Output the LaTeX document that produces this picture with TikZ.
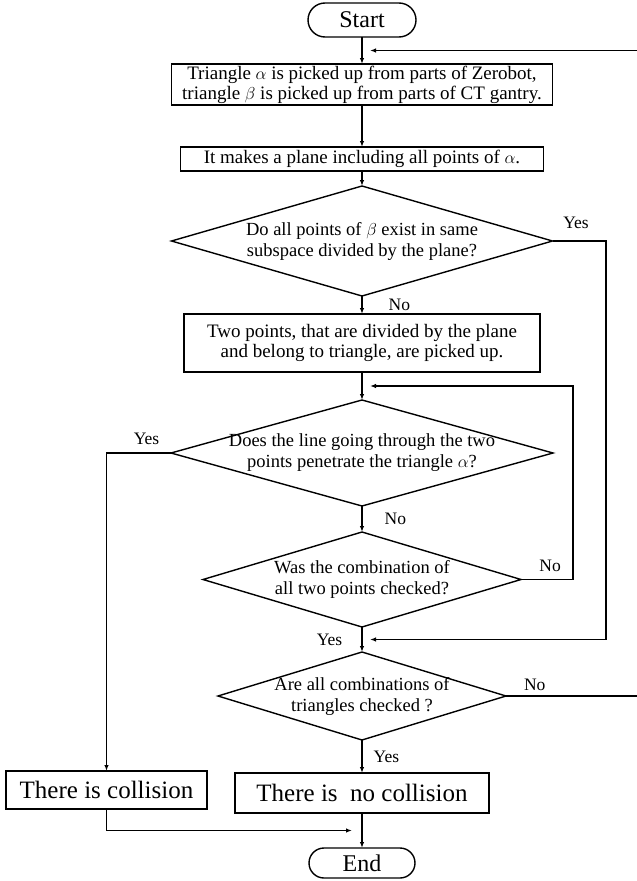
\documentclass[tikz,border=0pt]{standalone}
\usepackage{fontspec}
\setmainfont{Liberation Serif}
\usetikzlibrary{arrows.meta}
\usetikzlibrary{positioning}
\usetikzlibrary{shapes.geometric}
\usetikzlibrary{shapes.misc}
\usetikzlibrary{calc}

\begin{document}
\begin{tikzpicture}[x=1pt, y=1pt, line width=1.4pt, >={Latex[length=6pt,width=4.5pt]},
        box/.style={draw, rectangle, align=center, inner sep=0pt, outer sep=0pt, font=\fontsize{19}{20}\selectfont},
        term/.style={draw, rounded rectangle, minimum width=108pt, minimum height=34pt, inner sep=0pt, outer sep=0pt, font=\fontsize{24}{26}\selectfont},
        dec/.style={draw, diamond, inner sep=0pt, outer sep=0pt},
        dtext/.style={align=center, inner sep=0pt, font=\fontsize{18.5}{21}\selectfont},
        yn/.style={inner sep=0pt, font=\fontsize{17.5}{20}\selectfont}]
                \useasboundingbox (0,-881) rectangle (637,0);
                \node[term] (start) at (362,-20) {Start};
                \node[box, minimum width=381pt, minimum height=41pt] (b_1) [below = 27pt of start] {Triangle $\alpha$ is picked up from parts of Zerobot,\\triangle $\beta$\ is picked up from parts of CT gantry.};
                \node[box, minimum width=363pt, minimum height=24pt] (b_2) [below = 42pt of b_1] {It makes a plane including all points of $\alpha$.};
                \node[dec, minimum width=381pt, minimum height=110pt, label={[dtext]center:{Do all points of $\beta$ exist in same\\subspace divided by the plane?}}] (d_1) [below = 15pt of b_2] {};
                \node[box, minimum width=356pt, minimum height=58pt] (b_3) [below = 18pt of d_1] {Two points, that are divided by the plane\\and belong to triangle, are picked up.};
                \node[dec, minimum width=382pt, minimum height=106pt, label={[dtext]center:{Does the line going through the two\\points penetrate the triangle $\alpha$?}}] (d_2) [below = 28pt of b_3] {};
                \node[dec, minimum width=318pt, minimum height=95pt, label={[dtext]center:{Was the combination of\\all two points checked?}}] (d_3) [below = 26pt of d_2] {};
                \node[dec, minimum width=288pt, minimum height=88pt, label={[dtext]center:{Are all combinations of\\triangles checked ?}}] (d_4) [below = 25pt of d_3] {};
                \node[box, minimum width=254pt, minimum height=40pt, font=\fontsize{25}{27}\selectfont] (r_2) [below = 33pt of d_4] {There is\ \ no collision};
                \node[box, minimum width=201pt, minimum height=38pt, font=\fontsize{25}{27}\selectfont] (r_1) [left = 28pt of r_2, yshift=3pt] {There is collision};
                \node[term, minimum width=106pt, minimum height=30pt] (stop) [below = 35pt of r_2] {End};
                % joints on the main line
                \coordinate (in_1) at ($(start.south)!.5!(b_1.north)$);
                \coordinate (in_2) at ($(b_3.south)!.5!(d_2.north)$);
                \coordinate (in_3) at ($(d_3.south)!.5!(d_4.north)$);
                \coordinate (in_4) at ($(r_2.south)!.5!(stop.north)$);
                \coordinate (r_a) at (606,0);
                \coordinate (r_b) at (573,0);
                \coordinate (far) at (650,0);
                \draw[->] (start) -- (b_1);
                \draw[->] (b_1) -- (b_2);
                \draw[->] (b_2) -- (d_1);
                \draw[->] (d_1) -- node[yn, right = 26pt] {No} (b_3);
                \draw[->] (b_3) -- (d_2);
                \draw[->] (d_2) -- node[yn, right = 22pt] {No} (d_3);
                \draw[->] (d_3) -- node[yn, left = 19pt] {Yes} (d_4);
                \draw[->] (d_4) -- node[yn, right = 11pt] {Yes} (r_2);
                \draw[->] (r_2) -- (stop);
                % loops
                \draw[->] (d_1.east) -| node[yn, above = 12pt, pos=0.22] {Yes} (r_a |- in_3) -- ([xshift=8pt]in_3);
                \draw[->] (d_3.east) -| node[yn, above = 7pt, pos=0.28] {No} (r_b |- in_2) -- ([xshift=8pt]in_2);
                \draw[->] (d_4.east) -- node[yn, above = 5pt, pos=0.2] {No} (d_4.east -| far) |- ([xshift=8pt]in_1);
                \draw[->] (d_2.west) -| node[yn, above = 8pt, pos=0.19] {Yes} (r_1.north);
                \draw[->] (r_1.south) |- ([xshift=-10pt]in_4);
\end{tikzpicture}
\end{document}
